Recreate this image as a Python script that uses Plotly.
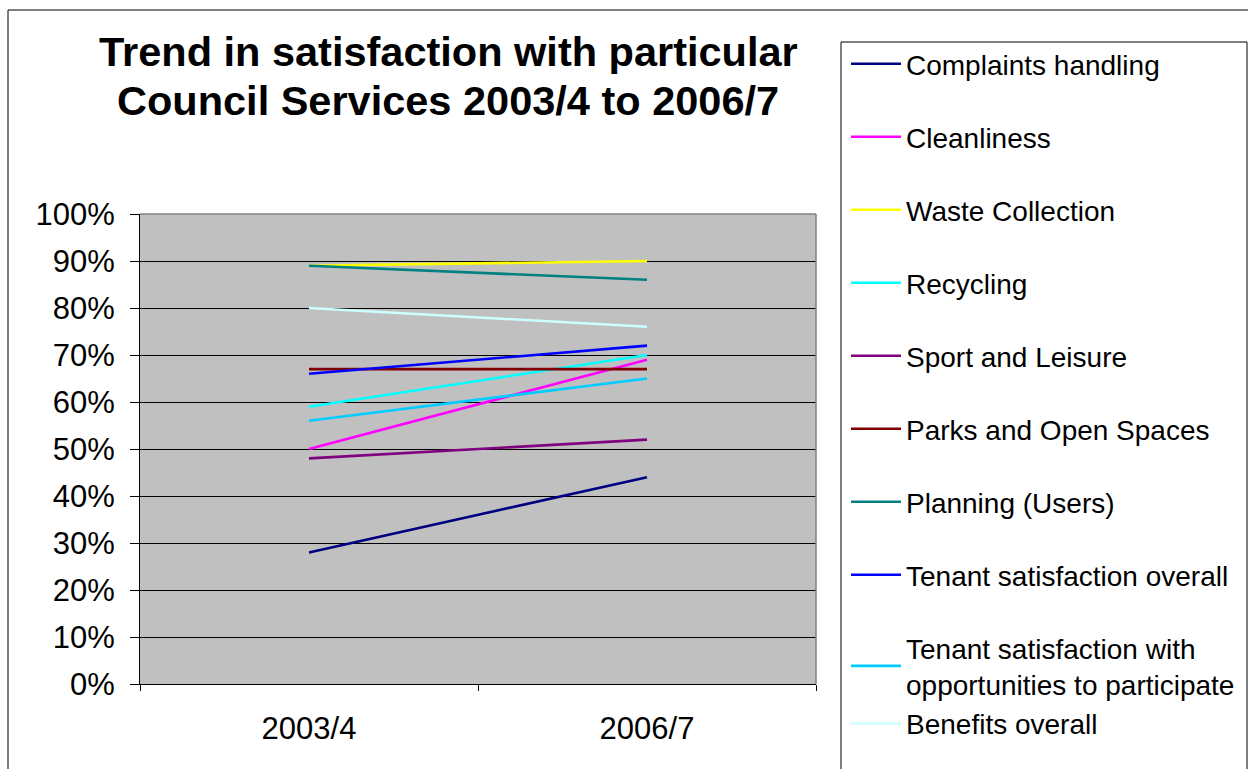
import plotly.graph_objects as go

# Survey periods and satisfaction scores (share satisfied)
periods = ["2003/4", "2006/7"]

services = [
    "Complaints handling",
    "Cleanliness",
    "Waste Collection",
    "Recycling",
    "Sport and Leisure",
    "Parks and Open Spaces",
    "Planning (Users)",
    "Tenant satisfaction overall",
    "Tenant satisfaction with<br>opportunities to participate",
    "Benefits overall",
]

complaints_handling = [0.28, 0.44]
cleanliness = [0.50, 0.69]
waste_collection = [0.89, 0.90]
recycling = [0.59, 0.70]
sport_and_leisure = [0.48, 0.52]
parks_and_open_spaces = [0.67, 0.67]
planning_users = [0.89, 0.86]
tenant_overall = [0.66, 0.72]
tenant_participation = [0.56, 0.65]
benefits_overall = [0.80, 0.76]

series_values = [
    complaints_handling,
    cleanliness,
    waste_collection,
    recycling,
    sport_and_leisure,
    parks_and_open_spaces,
    planning_users,
    tenant_overall,
    tenant_participation,
    benefits_overall,
]

line_colors = [
    "#000080", "#FF00FF", "#FFFF00", "#00FFFF", "#800080",
    "#800000", "#008080", "#0000FF", "#00CCFF", "#CCFFFF",
]

y_ticks = [i / 10 for i in range(11)]
y_tick_labels = [f"{i * 10}%" for i in range(11)]

title_lines = [
    "Trend in satisfaction with particular",
    "Council Services 2003/4 to 2006/7",
]

# Canvas geometry (pixels)
W, H = 1248, 769
L, R, T, B = 140, 816, 214, 684
PW, PH = R - L, B - T


def px_x(p):
    return (p - L) / PW


def px_y(p):
    return (B - p) / PH


FONT = "Liberation Sans, Arial, sans-serif"

fig = go.Figure()
for i, (name, vals, col) in enumerate(zip(services, series_values, line_colors)):
    # the last two entries share a group so they sit tight together in the key
    group = "g8" if i >= 8 else f"g{i}"
    fig.add_trace(go.Scatter(
        x=periods, y=vals, mode="lines", name=name,
        line=dict(color=col, width=2.6),
        legendgroup=group,
    ))

title_annotations = [
    dict(
        text=f"<b>{line}</b>",
        xref="paper", yref="paper", x=px_x(448), y=px_y(cy),
        xanchor="center", yanchor="middle", showarrow=False,
        font=dict(size=41.5, family=FONT, color="black"),
    )
    for line, cy in zip(title_lines, [51, 100.5])
]

fig.update_layout(
    width=W, height=H,
    margin=dict(l=L, r=W - R, t=T, b=H - B, pad=0, autoexpand=False),
    paper_bgcolor="white",
    plot_bgcolor="#C0C0C0",
    font=dict(family=FONT, color="black", size=31),
    showlegend=True,
    legend=dict(
        x=px_x(846), y=px_y(39), xanchor="left", yanchor="top",
        font=dict(size=28, family=FONT, color="black"),
        bgcolor="rgba(0,0,0,0)", borderwidth=0,
        tracegroupgap=33.6, itemwidth=50, traceorder="grouped",
        maxheight=760,
    ),
    xaxis=dict(
        type="category", range=[-0.5, 1.5], tickson="boundaries",
        showline=True, linecolor="black", linewidth=1,
        ticks="outside", ticklen=6, tickcolor="black",
        showgrid=False, zeroline=False,
        tickfont=dict(size=31, family=FONT, color="black"),
        ticklabelstandoff=17, automargin=False,
    ),
    yaxis=dict(
        range=[0, 1], tickvals=y_ticks, ticktext=y_tick_labels,
        showline=True, linecolor="black", linewidth=1,
        ticks="outside", ticklen=9, tickcolor="black",
        showgrid=True, gridcolor="black", gridwidth=1,
        zeroline=False,
        tickfont=dict(size=31, family=FONT, color="black"),
        ticklabelstandoff=9, automargin=False,
    ),
    annotations=title_annotations,
    shapes=[
        # outer chart frame
        dict(type="rect", xref="paper", yref="paper",
             x0=px_x(8), x1=px_x(1262), y0=px_y(10), y1=px_y(790),
             line=dict(color="black", width=1), layer="below"),
        # legend frame
        dict(type="rect", xref="paper", yref="paper",
             x0=px_x(841), x1=px_x(1247), y0=px_y(42), y1=px_y(790),
             line=dict(color="black", width=1), layer="below"),
        # plot area top and right edges
        dict(type="line", xref="paper", yref="paper", x0=0, x1=1, y0=1, y1=1,
             line=dict(color="#808080", width=1.5), layer="above"),
        dict(type="line", xref="paper", yref="paper", x0=1, x1=1, y0=0, y1=1,
             line=dict(color="#808080", width=1.5), layer="above"),
    ],
)

fig.write_html("out.html")
